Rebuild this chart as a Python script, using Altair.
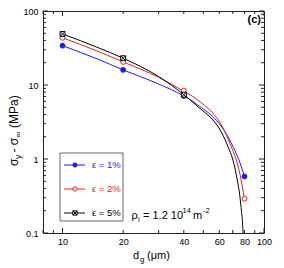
import altair as alt
import pandas as pd

# ---------------- data ----------------
series = ["ε = 1%", "ε = 2%", "ε = 5%"]
colors = ["#1c1cf0", "#f01c1c", "#000000"]

# measured markers (d_g in µm, stress in MPa)
mk_e1_d = [10, 20, 40, 80]
mk_e1 = [34, 16, 7.1, 0.58]
mk_e2_d = [10, 20, 40, 80]
mk_e2 = [43.5, 20.5, 8.4, 0.29]
mk_e5_d = [10, 20, 40]
mk_e5 = [49, 23, 7.4]

# fitted curves, values
cv_e1_d = [10, 15, 20, 30, 40, 45.5, 67.5, 76.1, 80]
cv_e1 = [34, 22.3, 16, 10.3, 7.1, 5.7, 1.81, 0.88, 0.58]
cv_e2_d = [10, 15, 20, 30, 40, 46.4, 66.6, 76.1, 80]
cv_e2 = [43.5, 28.5, 20.5, 12.7, 8.2, 6.4, 1.81, 0.61, 0.29]
cv_e5_d = [10, 15, 20, 30, 40, 45.5, 65.4, 72.7, 76.7, 78.7, 79.2]
cv_e5 = [49, 32, 23, 13, 7.4, 5.5, 1.6, 0.63, 0.24, 0.1, 0.05]

x_labels = [10, 20, 40, 60, 80, 100]
y_labels = [0.1, 1, 10, 100]
x_major = [10, 100]
x_minor = [8, 9, 20, 30, 40, 50, 60, 70, 80, 90]
y_major = [0.1, 1, 10, 100]
y_minor = [0.2, 0.3, 0.4, 0.5, 0.6, 0.7, 0.8, 0.9,
           2, 3, 4, 5, 6, 7, 8, 9,
           20, 30, 40, 50, 60, 70, 80, 90]

# ---------------- tables ----------------
lines = pd.DataFrame({
    "d": cv_e1_d + cv_e2_d + cv_e5_d,
    "s": cv_e1 + cv_e2 + cv_e5,
    "series": [series[0]] * len(cv_e1_d) + [series[1]] * len(cv_e2_d) + [series[2]] * len(cv_e5_d),
})
points = pd.DataFrame({
    "d": mk_e1_d + mk_e2_d + mk_e5_d,
    "s": mk_e1 + mk_e2 + mk_e5,
    "series": [series[0]] * len(mk_e1_d) + [series[1]] * len(mk_e2_d) + [series[2]] * len(mk_e5_d),
})

W, H = 221, 222
FONT = "Liberation Sans"
INK = "#222222"
XSQ = "M-1,-1H1V1H-1ZM-1,-1L1,1M1,-1L-1,1"

xs = alt.Scale(type="log", domain=[8, 100], nice=False)
ys = alt.Scale(type="log", domain=[0.1, 100], nice=False)
xaxis = alt.Axis(values=x_labels, format="d", title=None, ticks=False, domain=False, grid=False,
                 labelFontSize=9, labelFont=FONT, labelColor="black", labelPadding=4,
                 labelFlush=False, labelOverlap=False)
yaxis = alt.Axis(values=y_labels, format="~g", title=None, ticks=False, domain=False, grid=False,
                 labelFontSize=9, labelFont=FONT, labelColor="black", labelPadding=5,
                 labelOverlap=False)

col_scale = alt.Scale(domain=series, range=colors)
fill_scale = alt.Scale(domain=series, range=[colors[0], "white", "white"])
shape_scale = alt.Scale(domain=series, range=["circle", "circle", XSQ])

layers = []

# ticks (inward, on all four sides)
def xticks(vals, length):
    df = pd.DataFrame({"v": vals})
    bot = alt.Chart(df).mark_rule(color=INK, strokeWidth=1).encode(
        x=alt.X("v:Q", scale=xs, axis=xaxis), y=alt.value(H), y2=alt.value(H - length))
    top = alt.Chart(df).mark_rule(color=INK, strokeWidth=1).encode(
        x=alt.X("v:Q", scale=xs, axis=xaxis), y=alt.value(0), y2=alt.value(length))
    return [bot, top]

def yticks(vals, length):
    df = pd.DataFrame({"v": vals})
    left = alt.Chart(df).mark_rule(color=INK, strokeWidth=1).encode(
        y=alt.Y("v:Q", scale=ys, axis=yaxis), x=alt.value(0), x2=alt.value(length))
    right = alt.Chart(df).mark_rule(color=INK, strokeWidth=1).encode(
        y=alt.Y("v:Q", scale=ys, axis=yaxis), x=alt.value(W), x2=alt.value(W - length))
    return [left, right]

layers += xticks(x_major, 5) + xticks(x_minor, 3) + yticks(y_major, 5) + yticks(y_minor, 3)

curves = alt.Chart(lines).mark_line(strokeWidth=1, clip=True, interpolate="monotone").encode(
    x=alt.X("d:Q", scale=xs, axis=xaxis),
    y=alt.Y("s:Q", scale=ys, axis=yaxis),
    color=alt.Color("series:N", scale=col_scale, legend=None),
)
marks = alt.Chart(points).mark_point(size=24, strokeWidth=1, opacity=1).encode(
    x=alt.X("d:Q", scale=xs, axis=xaxis),
    y=alt.Y("s:Q", scale=ys, axis=yaxis),
    stroke=alt.Stroke("series:N", scale=col_scale, legend=None),
    fill=alt.Fill("series:N", scale=fill_scale, legend=None),
    shape=alt.Shape("series:N", scale=shape_scale, legend=None),
)
layers += [curves, marks]

one = pd.DataFrame({"a": [0]})

def txt(s, x, y, size=11, color="black", align="left", baseline="alphabetic", angle=0, weight="normal"):
    mk = alt.Chart(one).mark_text(text=s, font=FONT, fontSize=size, color=color, align=align,
                                  baseline=baseline, angle=angle, fontWeight=weight)
    return mk.encode(x=alt.value(x), y=alt.value(y))

# legend box
layers.append(alt.Chart(one).mark_rect(fill="white", stroke="#666666", strokeWidth=1).encode(
    x=alt.value(17), x2=alt.value(80), y=alt.value(142), y2=alt.value(210)))
leg_y = [154, 178, 202]
fills = [colors[0], "white", "white"]
shapes = ["circle", "circle", XSQ]
for i in range(3):
    layers.append(alt.Chart(one).mark_rule(color=colors[i], strokeWidth=1).encode(
        x=alt.value(21), x2=alt.value(42), y=alt.value(leg_y[i])))
    layers.append(alt.Chart(one).mark_point(size=18, strokeWidth=1, opacity=1, shape=shapes[i],
                                            stroke=colors[i], fill=fills[i]).encode(
        x=alt.value(32), y=alt.value(leg_y[i])))
    layers.append(txt(series[i], 49, leg_y[i], size=9.5, color=colors[i], baseline="middle"))

# density annotation
layers += [
    txt("ρ", 88.5, 208),
    txt("i", 95, 211, size=7.5),
    txt("= 1.2 10", 100, 208),
    txt("14", 139.5, 202, size=7.5),
    txt("m", 150, 208),
    txt("-2", 160, 202, size=7.5),
]
# panel label
layers.append(txt("(c)", 218, 12, size=11, align="right", weight="bold"))

# x title
layers += [
    txt("d", 90, 248),
    txt("g", 97, 251, size=8),
    txt("(μm)", 104, 248),
]
# y title (rotated)
layers += [
    txt("σ", -25.5, 155, size=12, angle=270),
    txt("y", -22.5, 148, size=8.5, angle=270),
    txt("- σ", -25.5, 141.5, size=12, angle=270),
    txt("∞", -22.5, 126.5, size=8.5, angle=270),
    txt("(MPa)", -25.5, 117, size=12, angle=270),
]

chart = alt.layer(*layers).properties(
    width=W, height=H,
    padding={"left": 35, "top": 3, "right": 12, "bottom": 33},
    autosize=alt.AutoSizeParams(type="none"),
).configure_view(stroke=INK, strokeWidth=1)

chart.save("out.html", embed_options={"renderer": "svg", "actions": False})
